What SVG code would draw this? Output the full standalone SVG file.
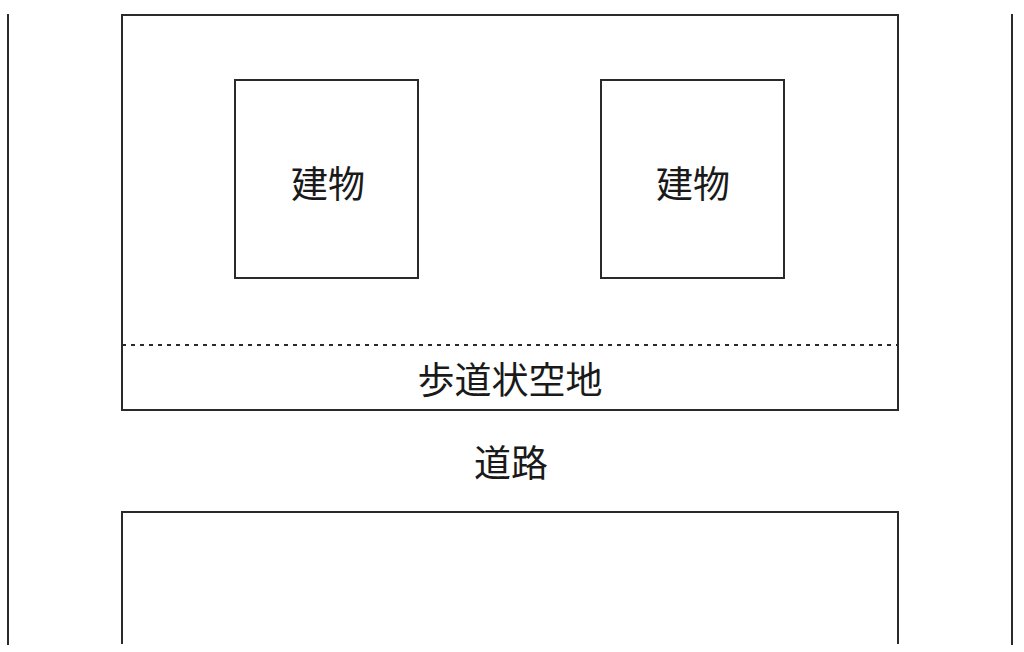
<svg xmlns="http://www.w3.org/2000/svg" width="1024" height="652" viewBox="0 0 1024 652">
<style>
.ln{fill:none;stroke:#2a2a2a;stroke-width:2}
.dash{fill:none;stroke:#2a2a2a;stroke-width:2;stroke-dasharray:4 5}
.t{font-family:"Noto Sans CJK JP","Noto Sans CJK SC",sans-serif;font-size:37px;fill:#1a1a1a;text-anchor:middle;dominant-baseline:central}
</style>
<rect width="1024" height="652" fill="#fff"/>
<g id="road-edges">
<line class="ln" x1="8" y1="14" x2="8" y2="645"/>
<line class="ln" x1="1012" y1="14" x2="1012" y2="645"/>
</g>
<g id="site">
<rect class="ln" x="122" y="15" width="776" height="395"/>
<line class="dash" x1="122" y1="345" x2="898" y2="345"/>
<text class="t" x="510" y="378">歩道状空地</text>
</g>
<g id="building1">
<rect class="ln" x="235" y="80" width="183" height="198"/>
<text class="t" x="328" y="182">建物</text>
</g>
<g id="building2">
<rect class="ln" x="601" y="80" width="183" height="198"/>
<text class="t" x="693" y="182">建物</text>
</g>
<g id="road">
<text class="t" x="511" y="461">道路</text>
</g>
<g id="opposite-site">
<polyline class="ln" points="122,644 122,512 898,512 898,644"/>
</g>
<g id="connectors"></g>
</svg>
